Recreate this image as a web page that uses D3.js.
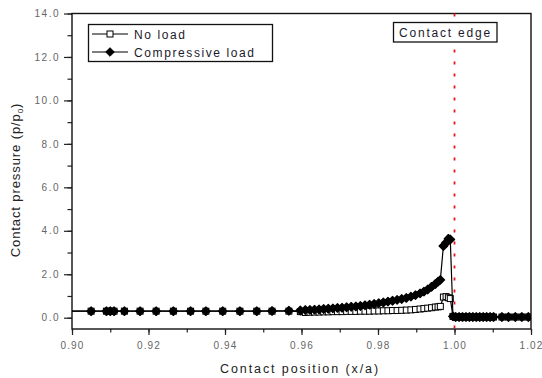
<!DOCTYPE html>
<html><head><meta charset="utf-8">
<script src="https://cdn.jsdelivr.net/npm/d3@7"></script>
<style>
body{margin:0;background:#fff;}
svg{display:block;font-family:"Liberation Sans",Arial,sans-serif;}
</style></head>
<body><svg id="c" width="542" height="378"></svg>
<script>
// ---- data ----
const xPos = [0.895,0.905,0.9090,0.9100,0.9110,0.9137,0.9178,0.9220,0.9265,0.9310,0.9350,0.9394,0.9439,0.9483,0.9523,0.9567,0.9597,
  0.9610,0.9622,0.9634,0.9646,0.9658,0.9670,0.9682,0.9694,0.9706,0.9718,0.9730,0.9742,0.9754,0.9766,0.9778,0.9790,0.9802,0.9814,0.9826,0.9838,0.9850,0.9862,0.9874,0.9886,0.9898,0.9910,0.9920,0.9930,0.9940,0.9950,0.9957,0.9963,0.9971,0.9978,0.9984,0.9989,0.9996,
  1.0003,1.0012,1.0021,1.0030,1.0039,1.0048,1.0057,1.0066,1.0075,1.0084,1.0093,1.0102,1.0124,1.0141,1.0159,1.0176,1.0193];
const noLoad = [0.30,0.30,0.30,0.30,0.30,0.30,0.30,0.30,0.30,0.30,0.30,0.30,0.30,0.30,0.30,0.30,0.28,
  0.24,0.25,0.26,0.26,0.27,0.27,0.28,0.28,0.28,0.29,0.29,0.29,0.30,0.30,0.30,0.31,0.31,0.32,0.32,0.33,0.33,0.34,0.35,0.36,0.38,0.40,0.42,0.44,0.46,0.49,0.50,0.52,0.95,0.97,0.92,0.88,0.06,
  0.03,0.03,0.03,0.03,0.03,0.03,0.03,0.03,0.03,0.03,0.03,0.03,0.03,0.03,0.03,0.03,0.03];
const compLoad = [0.30,0.30,0.30,0.30,0.30,0.30,0.30,0.30,0.30,0.30,0.30,0.30,0.30,0.30,0.31,0.32,0.33,
  0.35,0.36,0.37,0.38,0.40,0.41,0.43,0.45,0.46,0.48,0.50,0.52,0.54,0.57,0.60,0.63,0.67,0.70,0.74,0.78,0.82,0.86,0.91,0.97,1.04,1.12,1.20,1.30,1.42,1.55,1.66,1.74,3.30,3.45,3.63,3.60,0.06,
  0.03,0.03,0.03,0.03,0.03,0.03,0.03,0.03,0.03,0.03,0.03,0.03,0.03,0.03,0.03,0.03,0.03];
const xTicks = [0.90,0.92,0.94,0.96,0.98,1.00,1.02];
const yTicks = [0,2,4,6,8,10,12,14];
const seriesNames = ["No load","Compressive load"];
const edgeX = 1.00;

// ---- layout ----
const svg = d3.select("#c");
const L=72,R=531,T=13.5,B=329;
const x = d3.scaleLinear().domain([0.90,1.02]).range([L,R]);
const y = d3.scaleLinear().domain([-0.52,14]).range([B,T]);
const tickCol="#666";

svg.append("defs").append("clipPath").attr("id","clip")
  .append("rect").attr("x",L).attr("y",T).attr("width",R-L).attr("height",B-T);

// minor ticks
const xMinor = d3.range(0.90,1.0201,0.01).map(v=>+v.toFixed(3));
const yMinor = d3.range(0,14.01,1);

const gx = svg.append("g").attr("transform",`translate(0,${B})`)
  .call(d3.axisBottom(x).tickValues(xMinor).tickSize(3.5).tickFormat(""));
gx.select(".domain").remove();
const gx2 = svg.append("g").attr("transform",`translate(0,${B})`)
  .call(d3.axisBottom(x).tickValues(xTicks).tickSize(6).tickPadding(7).tickFormat(d3.format(".2f")));
gx2.select(".domain").remove();
const gy = svg.append("g").attr("transform",`translate(${L},0)`)
  .call(d3.axisLeft(y).tickValues(yMinor).tickSize(4.5).tickFormat(""));
gy.select(".domain").remove();
const gy2 = svg.append("g").attr("transform",`translate(${L},0)`)
  .call(d3.axisLeft(y).tickValues(yTicks).tickSize(8).tickPadding(4).tickFormat(d3.format(".1f")));
gy2.select(".domain").remove();
svg.selectAll(".tick line").attr("stroke","#222").attr("stroke-width",1.2);
svg.selectAll(".tick text").attr("fill",tickCol).style("font-size","10px")
  .style("letter-spacing","1.5px").style("font-family","'Liberation Sans',Arial,sans-serif");
gx2.selectAll(".tick text").style("letter-spacing","1.1px");

// frame
svg.append("rect").attr("x",L).attr("y",T).attr("width",R-L).attr("height",B-T)
  .attr("fill","none").attr("stroke","#111").attr("stroke-width",1.4);

// contact edge
svg.append("line").attr("x1",x(edgeX)).attr("x2",x(edgeX)).attr("y1",T).attr("y2",B)
  .attr("stroke","#e8141c").attr("stroke-width",1.8).attr("stroke-dasharray","3,9");

const plot = svg.append("g").attr("clip-path","url(#clip)");
const line = d3.line().x(d=>x(d[0])).y(d=>y(d[1]));
const dNo = xPos.map((v,i)=>[v,noLoad[i]]);
const dCo = xPos.map((v,i)=>[v,compLoad[i]]);

const diamond = "M0,-4.3L4.3,0L0,4.3L-4.3,0Z";

plot.append("path").datum(dNo).attr("d",line).attr("fill","none").attr("stroke","#000").attr("stroke-width",1.2);
plot.selectAll(".sq").data(dNo).join("rect").attr("class","sq")
  .attr("x",d=>x(d[0])-3).attr("y",d=>y(d[1])-3).attr("width",6).attr("height",6)
  .attr("fill","#fff").attr("stroke","#000").attr("stroke-width",1);
plot.append("path").datum(dCo).attr("d",line).attr("fill","none").attr("stroke","#000").attr("stroke-width",1.2);
plot.selectAll(".dm").data(dCo).join("path").attr("class","dm")
  .attr("transform",d=>`translate(${x(d[0])},${y(d[1])})`).attr("d",diamond)
  .attr("fill","#000").attr("stroke","#000").attr("stroke-width",1.2).attr("stroke-linejoin","round");

// legend
const lg = svg.append("g");
lg.append("rect").attr("x",88.5).attr("y",24.5).attr("width",184).attr("height",37)
  .attr("fill","#fff").attr("stroke","#111").attr("stroke-width",1.3);
seriesNames.forEach((n,i)=>{
  const yy = 34 + i*18;
  lg.append("line").attr("x1",92).attr("x2",128).attr("y1",yy).attr("y2",yy).attr("stroke","#000").attr("stroke-width",1.2);
  if(i===0){
    lg.append("rect").attr("x",107).attr("y",yy-3).attr("width",6).attr("height",6).attr("fill","#fff").attr("stroke","#000");
  } else {
    lg.append("path").attr("transform",`translate(110,${yy})`).attr("d",diamond).attr("fill","#000").attr("stroke","#000").attr("stroke-linejoin","round");
  }
  lg.append("text").attr("x",134).attr("y",yy+4.5).text(n).attr("fill","#1a1a2a")
    .style("font-size","12px").style("letter-spacing","1.6px");
});

// contact edge label
svg.append("rect").attr("x",393.5).attr("y",22.5).attr("width",103.5).attr("height",19.5)
  .attr("fill","#fff").attr("stroke","#111").attr("stroke-width",1.3);
svg.append("text").attr("x",445.5).attr("y",36.5).attr("text-anchor","middle").text("Contact edge")
  .attr("fill","#1a1a2a").style("font-size","12px").style("letter-spacing","1.8px");

// axis titles
svg.append("text").attr("x",300).attr("y",373).attr("text-anchor","middle")
  .text("Contact position (x/a)").attr("fill","#222").style("font-size","12.5px").style("letter-spacing","1.9px");
const yt = svg.append("text").attr("transform","translate(20,180) rotate(-90)").attr("text-anchor","middle")
  .attr("fill","#222").style("font-size","13px").style("letter-spacing","0.9px");
yt.append("tspan").text("Contact pressure (p/p");
yt.append("tspan").text("0").style("font-size","8px").attr("dy",3);
yt.append("tspan").text(")").attr("dy",-3);
</script></body></html>
